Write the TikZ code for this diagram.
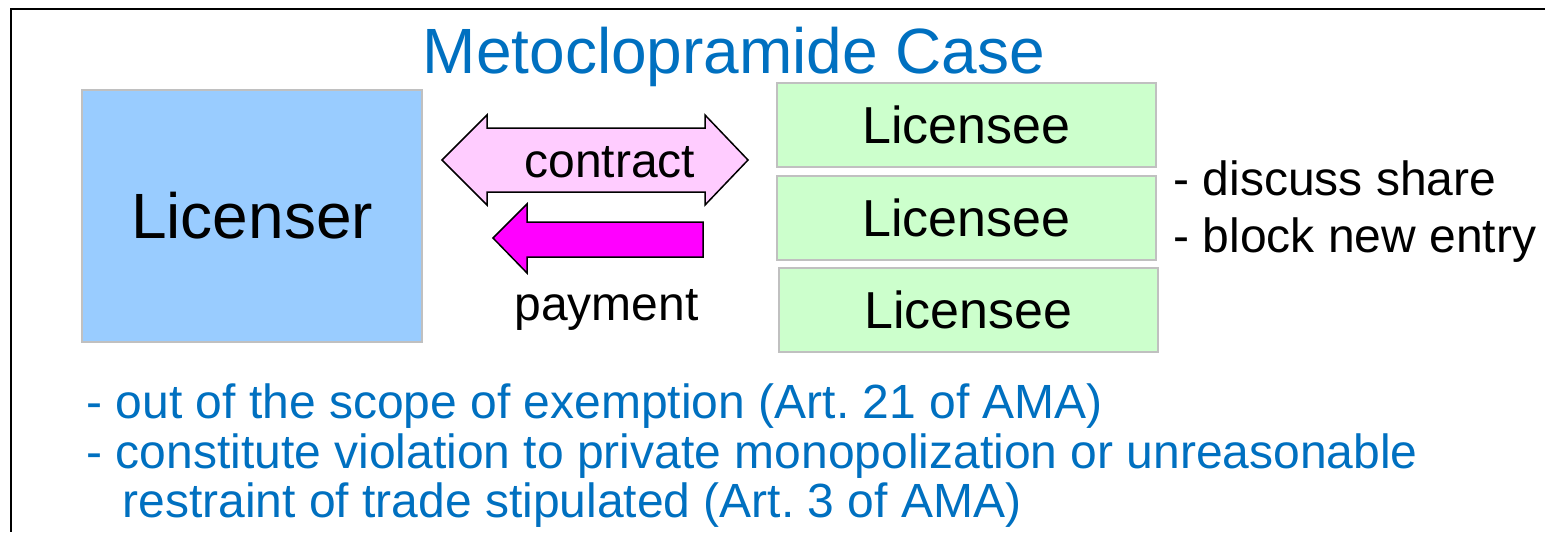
\documentclass[tikz,border=0pt]{standalone}
\usepackage{fontspec}
\setmainfont{Liberation Sans}
\frenchspacing
\usetikzlibrary{shapes,arrows,positioning}
\definecolor{caseblue}{HTML}{0070C0}
\definecolor{licenserblue}{HTML}{99CCFF}
\definecolor{licenseegreen}{HTML}{CCFFCC}
\definecolor{boxgray}{HTML}{C0C0C0}
\definecolor{contractpink}{HTML}{FFCCFF}
\definecolor{paymentmagenta}{HTML}{FF00FF}
\tikzstyle{licenser} = [draw=boxgray, fill=licenserblue, line width=1pt, rectangle, minimum width=170pt, minimum height=126pt, inner sep=0pt, font=\fontsize{32}{36}\selectfont]
\tikzstyle{licensee} = [draw=boxgray, fill=licenseegreen, line width=1pt, rectangle, minimum width=189.5pt, minimum height=42pt, inner sep=0pt, font=\fontsize{26}{30}\selectfont]
\tikzstyle{contractarrow} = [draw=black, fill=contractpink, line width=0.75pt, line join=miter]
\tikzstyle{paymentarrow} = [draw=black, fill=paymentmagenta, line width=0.75pt, line join=miter]
\tikzstyle{plaintext} = [inner sep=0pt, anchor=base west, font=\fontsize{24}{28}\selectfont]
\tikzstyle{bluetext} = [plaintext, text=caseblue]

\begin{document}
\begin{tikzpicture}[x=0.5pt,y=-0.5pt]
	\useasboundingbox (0,0) rectangle (1545,532);
	\draw[line width=1.3pt] (1545,9) -| (11,532);
	\node[inner sep=0pt, anchor=base, text=caseblue, font=\fontsize{32}{36}\selectfont] (title) at (734,73) {Metoclopramide Case};
	\node[licenser] (licenser) at (252,216) {Licenser};
	\node[licensee] (licenseeA) at (966.5,124.5) {Licensee};
	\node[licensee, below=3.5pt of licenseeA] (licenseeB) {Licensee};
	\node[licensee, below=3pt of licenseeB, xshift=1pt] (licenseeC) {Licensee};
	% block arrows
	\filldraw[contractarrow] (442,160) -- (487,115) -- (487,128) -- (705,128) -- (705,115) -- (748,160)
		-- (705,205) -- (705,192) -- (487,192) -- (487,205) -- cycle;
	\filldraw[paymentarrow] (493,238) -- (527,204) -- (527,222) -- (703,222) -- (703,257) -- (527,257)
		-- (527,273) -- cycle;
	\node[plaintext] (contract) at (524,177) {contract};
	\node[plaintext] (payment) at (514,320) {payment};
	\node[plaintext] (share) at (1173,195) {- discuss share};
	\node[plaintext] (entry) at (1173,252) {- block new entry};
	\node[bluetext] (exemption) at (86,418) {- out of the scope of exemption (Art. 21 of AMA)};
	\node[bluetext] (violation) at (86,468) {- constitute violation to private monopolization or unreasonable};
	\node[bluetext] (restraint) at (122,517) {restraint of trade stipulated (Art. 3 of AMA)};
\end{tikzpicture}
\end{document}
